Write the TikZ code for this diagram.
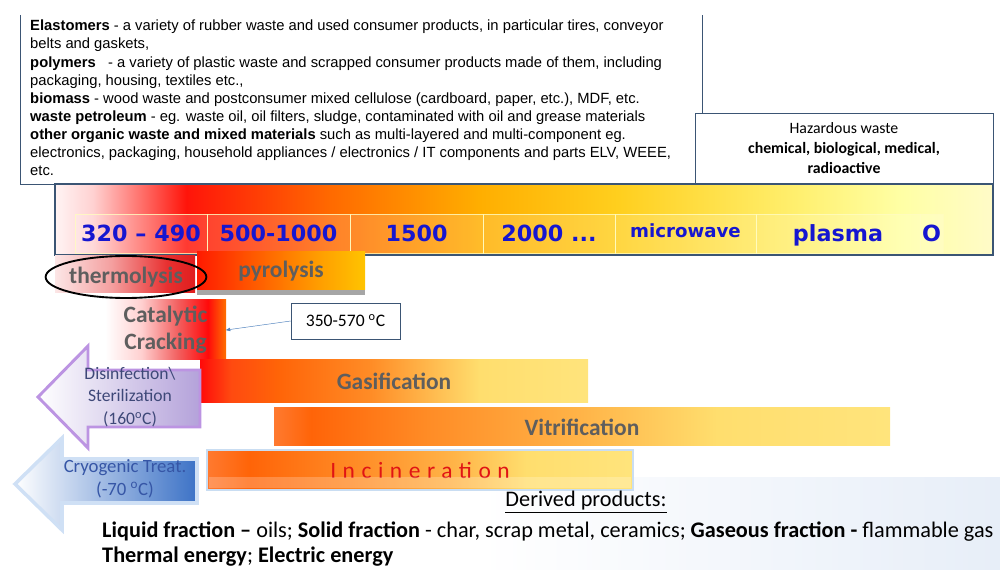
\documentclass[tikz,border=0pt]{standalone}
\usepackage{fontspec}
\setmainfont{Carlito}
\newfontfamily\arialfont{Liberation Sans}
\newfontfamily\verdfont{DejaVu Sans}
\usepackage{tikz}
\usetikzlibrary{arrows,shapes.geometric,shadows}
\usepackage{xcolor}

\newcommand\pxu{0.03cm}

\definecolor{frameblue}{HTML}{3B5574}
\definecolor{procgray}{HTML}{5E5E5E}
\definecolor{cellblue}{HTML}{1616D0}
\definecolor{arrowblue}{HTML}{4F81BD}
\definecolor{lavfill}{HTML}{B4A2DA}
\definecolor{lavedge}{HTML}{BC94E2}
\definecolor{lavtext}{HTML}{3E4878}
\definecolor{cryofill}{HTML}{3C72C6}
\definecolor{cryoedge}{HTML}{CFE0F5}
\definecolor{cryotext}{HTML}{3656A6}
\definecolor{incred}{HTML}{E01414}
\definecolor{incglow}{HTML}{C9DDF2}
\definecolor{palebg}{HTML}{E7EEF8}

%%% gradients
\definecolor{tA}{HTML}{FFF4F4}\definecolor{tB}{HTML}{FFD2D2}\definecolor{tC}{HTML}{FF140A}
\definecolor{tD}{HTML}{FF6A00}\definecolor{tE}{HTML}{FFAE00}\definecolor{tF}{HTML}{FFCF1E}
\definecolor{tG}{HTML}{FFF070}\definecolor{tH}{HTML}{FFFFA4}\definecolor{tI}{HTML}{FFFBC8}
\pgfdeclarehorizontalshading{tempshade}{100bp}{color(0bp)=(tA); color(25bp)=(tA); color(27bp)=(tB); color(32bp)=(tC); color(39.7bp)=(tD); color(47.6bp)=(tE); color(55bp)=(tF); color(64.7bp)=(tG); color(70bp)=(tH); color(75bp)=(tI); color(100bp)=(tI)}

\definecolor{oA}{HTML}{FF7A30}\definecolor{oB}{HTML}{FF6408}\definecolor{oC}{HTML}{FF8C26}
\definecolor{oD}{HTML}{FFB448}\definecolor{oE}{HTML}{FFDE6E}\definecolor{oF}{HTML}{FFE47C}
\definecolor{rA}{HTML}{FF0A0A}\definecolor{rB}{HTML}{FF4A10}
\pgfdeclarehorizontalshading{gasshade}{100bp}{color(0bp)=(rA); color(25bp)=(rA); color(29bp)=(rB); color(35bp)=(oB); color(47bp)=(oC); color(61bp)=(oE); color(75bp)=(oF); color(100bp)=(oF)}
\pgfdeclarehorizontalshading{vitshade}{100bp}{color(0bp)=(oA); color(25bp)=(oA); color(28bp)=(oB); color(37.5bp)=(oC); color(50bp)=(oD); color(61bp)=(oE); color(75bp)=(oF); color(100bp)=(oF)}
\pgfdeclarehorizontalshading{incshade}{100bp}{color(0bp)=(oA); color(25bp)=(oA); color(30bp)=(oB); color(42.5bp)=(oC); color(54bp)=(oD); color(62.5bp)=(oE); color(75bp)=(oF); color(100bp)=(oF)}

\definecolor{pA}{HTML}{FF1A00}\definecolor{pB}{HTML}{FF5A00}\definecolor{pC}{HTML}{FF9A00}\definecolor{pD}{HTML}{FFC400}
\pgfdeclarehorizontalshading{pyrshade}{100bp}{color(0bp)=(pA); color(25bp)=(pA); color(42bp)=(pB); color(60bp)=(pC); color(75bp)=(pD); color(100bp)=(pD)}

\definecolor{hA}{HTML}{FCE6E6}\definecolor{hB}{HTML}{F4A0A0}\definecolor{hC}{HTML}{E83030}\definecolor{hD}{HTML}{E01E1E}
\pgfdeclarehorizontalshading{thermshade}{100bp}{color(0bp)=(hA); color(25bp)=(hA); color(45bp)=(hB); color(65bp)=(hC); color(75bp)=(hD); color(100bp)=(hD)}

\definecolor{kB}{HTML}{FFD0D0}\definecolor{kC}{HTML}{F26060}\definecolor{kD}{HTML}{FF0A0A}\definecolor{kE}{HTML}{FF7000}
\pgfdeclarehorizontalshading{catshade}{100bp}{color(0bp)=(white); color(25bp)=(white); color(40bp)=(kB); color(55bp)=(kC); color(67.5bp)=(kD); color(75bp)=(kE); color(100bp)=(kE)}

\begin{document}
\begin{tikzpicture}[x=0.03cm, y=-0.03cm, >=stealth',
  procbox/.style={rectangle, inner sep=0pt, text=procgray, font=\bfseries\fontsize{20}{23}\selectfont},
  celltext/.style={anchor=base, inner sep=0pt, text=cellblue, font=\verdfont\bfseries\fontsize{19}{19}\selectfont},
  arrowtext/.style={align=center, font=\fontsize{15}{19}\selectfont}]
\useasboundingbox (0,0) rectangle (1000,570);

%%%BACKGROUND OF THE PRODUCTS
\shade[left color=white, right color=palebg] (480,478) rectangle (1000,570);

%%%WASTE STREAMS
\draw[frameblue, fill=white] (20,15) -- (20,184) -- (702,184) -- (702,15);
\node[anchor=north west, inner sep=0pt, align=left, font=\arialfont\fontsize{12.6}{15.4}\selectfont] (streams) at (30,20)
{\textbf{Elastomers} - a variety of rubber waste and used consumer products, in particular tires, conveyor\\
belts and gaskets,\\
\textbf{polymers}\ \ \ - a variety of plastic waste and scrapped consumer products made of them, including\\
packaging, housing, textiles etc.,\\
\textbf{biomass} - wood waste and postconsumer mixed cellulose (cardboard, paper, etc.), MDF, etc.\\
\textbf{waste petroleum} - eg. waste oil, oil filters, sludge, contaminated with oil and grease materials\\
\textbf{other organic waste and mixed materials} such as multi-layered and multi-component eg.\\
electronics, packaging, household appliances / electronics / IT components and parts ELV, WEEE,\\
etc.};
\node[draw=frameblue, fill=white, align=center, minimum width=298*\pxu, minimum height=70*\pxu, font=\fontsize{13.5}{17}\selectfont] (hazard) at (844,148)
{Hazardous waste\\ \textbf{chemical, biological, medical,}\\ \textbf{radioactive}};

%%%TEMPERATURE SCALE
\node[draw=frameblue, line width=1.6pt, shade, shading=tempshade, inner sep=0pt, minimum width=938*\pxu, minimum height=71*\pxu] (scale) at (524,219.5) {};
\foreach \l/\r/\b/\t [count=\i] in {75/207/242/{320 – 490}, 207/350/242/{500-1000}, 350/483/242/{1500}, 483/615/242/{2000 ...},
  615/756/238/{\fontsize{15.5}{15.5}\selectfont microwave}, 756/920/242/{plasma}, 920/943/242/{O}}
{
  \fill[white, opacity=.16] (\l,214) rectangle (\r,253);
  \draw[white!75!yellow, opacity=.8] (\l,214) rectangle (\r,253);
  \node[celltext] (cell\i) at ({(\l+\r)/2},\b) {\t};
}

%%%PROCESSES
\node[procbox, shade, shading=thermshade, minimum width=140*\pxu, minimum height=37*\pxu] (thermbox) at (125,274.5) {};
\node[procbox, shade, shading=pyrshade, minimum width=168*\pxu, minimum height=38*\pxu,
  drop shadow={shadow xshift=0pt, shadow yshift=-4pt, opacity=.7}] (pyro) at (281,271) {pyrolysis};
\node[procbox, ellipse, draw=black, line width=1.6pt, minimum width=148*\pxu, minimum height=42*\pxu] (thermo) at (126,277) {thermolysis};
\node[procbox, shade, shading=catshade, align=center, minimum width=121*\pxu, minimum height=60*\pxu] (catal) at (165.5,330) {Catalytic\\Cracking};
\node[procbox, shade, shading=gasshade, minimum width=388*\pxu, minimum height=43*\pxu] (gasif) at (394,381.5) {Gasification};

%%%COLD SIDE
\path[shade, left color=white, right color=cryofill, draw=cryoedge, line width=3pt]
  (15,484) -- (62,438) -- (62,459) -- (197,459) -- (197,503) -- (62,503) -- (62,530) -- cycle;
\node[arrowtext, text=cryotext, font=\fontsize{16}{20}\selectfont] (cryo) at (125,479) {Cryogenic Treat.\\(-70 \textsuperscript{o}C)};
\path[shade, left color=white, right color=lavfill, draw=lavedge, line width=2.5pt]
  (38,397) -- (88,346) -- (88,370) -- (200,370) -- (200,427) -- (88,427) -- (88,448) -- cycle;
\node[arrowtext, text=lavtext] (disinf) at (130,397) {Disinfection\textbackslash\\Sterilization\\(160\textsuperscript{o}C)};

\node[procbox, shade, shading=vitshade, minimum width=616*\pxu, minimum height=38*\pxu] (vitri) at (582,427) {Vitrification};
\node[procbox, shade, shading=incshade, draw=incglow, line width=2.5pt, text=incred, minimum width=426*\pxu, minimum height=40*\pxu,
  font=\addfontfeature{LetterSpace=28}\fontsize{20}{20}\selectfont] (incin) at (420,470) {Incineration};
\fill[white, opacity=.22] (209,477) rectangle (631,488);

%%%CALLOUT
\node[draw=frameblue, thin, fill=white, minimum width=109*\pxu, minimum height=36*\pxu, font=\fontsize{15}{15}\selectfont] (callout) at (345.5,321) {350-570 \textsuperscript{o}C};
\draw[->, arrowblue, thin] (callout.west) -- (catal.east);

%%%PRODUCTS
\node[font=\fontsize{19}{19}\selectfont] (derived) at (586,502) {\underline{Derived products:}};
\node[anchor=west, inner sep=0pt, font=\fontsize{19}{19}\selectfont] (prodA) at (102,532)
{\textbf{Liquid fraction –} oils; \textbf{Solid fraction} - char, scrap metal, ceramics; \textbf{Gaseous fraction -} flammable gas};
\node[anchor=west, inner sep=0pt, font=\fontsize{19}{19}\selectfont] (prodB) at (102,557)
{\textbf{Thermal energy}; \textbf{Electric energy}};
\end{tikzpicture}
\end{document}
